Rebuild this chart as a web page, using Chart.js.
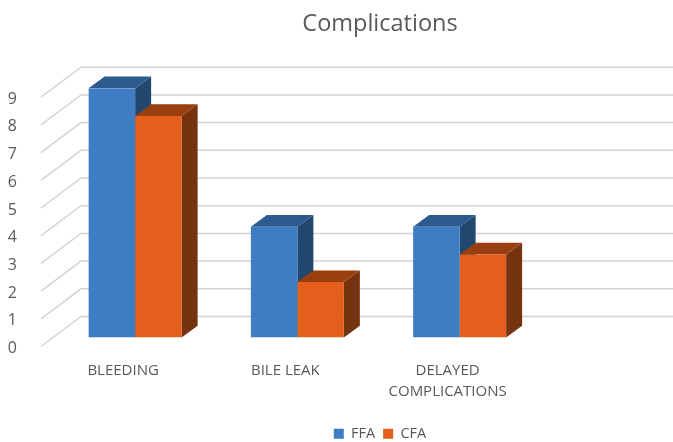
<!DOCTYPE html>
<html lang="en">
<head>
<meta charset="UTF-8">
<title>Complications</title>
<script src="https://cdn.jsdelivr.net/npm/chart.js"></script>
<style>
  html, body { margin: 0; background: #fff; overflow: hidden; }
  canvas { display: block; }
</style>
</head>
<body>
<canvas id="myChart" width="760" height="451"></canvas>
<script>
var categories = ['BLEEDING', 'BILE LEAK', ['DELAYED', 'COMPLICATIONS'], ''];
var ffaValues = [9, 4, 4, null];
var cfaValues = [8, 2, 3, null];
var yTicks = [0, 1, 2, 3, 4, 5, 6, 7, 8, 9];

var textColor = '#595959';
var gridColor = '#d4d4d4';
var fontName = '"Open Sans", sans-serif';

// side and top colours of each extruded bar
var faces = [
  { top: '#2b5a8c', side: '#224870' },
  { top: '#9a3f10', side: '#76330f' }
];
var barDepthX = 16, barDepthY = 11.7;

function face(ctx, pts, color) {
  ctx.fillStyle = color;
  ctx.beginPath();
  ctx.moveTo(pts[0][0], pts[0][1]);
  for (var i = 1; i < pts.length; i++) ctx.lineTo(pts[i][0], pts[i][1]);
  ctx.closePath();
  ctx.fill();
}

// back wall + side wall lines, then the depth faces behind the bars
var fake3d = {
  id: 'fake3d',
  beforeDatasetsDraw: function (chart) {
    var ctx = chart.ctx;
    var y = chart.scales.y;
    ctx.save();
    ctx.strokeStyle = gridColor;
    ctx.lineWidth = 1.5;
    yTicks.forEach(function (v) {
      var py = y.getPixelForValue(v);
      ctx.beginPath();
      ctx.moveTo(41, py + 9);
      ctx.lineTo(81, py - 21);
      ctx.lineTo(chart.width, py - 21);
      ctx.stroke();
    });
    chart.data.datasets.forEach(function (ds, i) {
      chart.getDatasetMeta(i).data.forEach(function (bar, j) {
        if (ds.data[j] === null) return;
        var p = bar.getProps(['x', 'y', 'base', 'width'], true);
        var l = p.x - p.width / 2, r = p.x + p.width / 2;
        face(ctx, [[r, p.y], [r + barDepthX, p.y - barDepthY], [r + barDepthX, p.base - barDepthY], [r, p.base]], faces[i].side);
        face(ctx, [[l, p.y], [l + barDepthX, p.y - barDepthY], [r + barDepthX, p.y - barDepthY], [r, p.y]], faces[i].top);
      });
    });
    ctx.restore();
  }
};

var config = {
  type: 'bar',
  data: {
    labels: categories,
    datasets: [
      { label: 'FFA', data: ffaValues, backgroundColor: '#3e7cc4' },
      { label: 'CFA', data: cfaValues, backgroundColor: '#e35f1b' }
    ]
  },
  options: {
    responsive: false,
    animation: false,
    categoryPercentage: 0.573,
    barPercentage: 1,
    scales: {
      x: {
        grid: { display: false },
        border: { display: false },
        afterFit: function (scale) { scale.height = 81; },
        ticks: {
          color: textColor,
          font: { family: fontName, size: 15, lineHeight: 1.38 },
          labelOffset: -12,
          padding: 15,
          maxRotation: 0,
          autoSkip: false
        }
      },
      y: {
        min: 0,
        max: 9,
        grid: { display: false },
        border: { display: false },
        afterFit: function (scale) { scale.width = 54; },
        ticks: {
          color: textColor,
          font: { family: fontName, size: 16 },
          stepSize: 1,
          padding: 29,
          labelOffset: 11
        }
      },
      // empty axis on the right, keeps the plot area short of the title's centre line
      spacer: {
        axis: 'y',
        position: 'right',
        grid: { display: false },
        border: { display: false },
        ticks: { display: false },
        afterFit: function (scale) { scale.width = 57; }
      }
    },
    plugins: {
      title: {
        display: true,
        text: 'Complications',
        color: textColor,
        font: { family: fontName, size: 23.5, weight: 'normal' },
        padding: { top: 10, bottom: 50 }
      },
      legend: {
        position: 'bottom',
        labels: {
          color: textColor,
          font: { family: fontName, size: 14.5 },
          boxWidth: 10,
          boxHeight: 10,
          padding: 8
        }
      },
      tooltip: { enabled: false }
    }
  },
  plugins: [fake3d]
};

new Chart(document.getElementById('myChart').getContext('2d'), config);
</script>
</body>
</html>
